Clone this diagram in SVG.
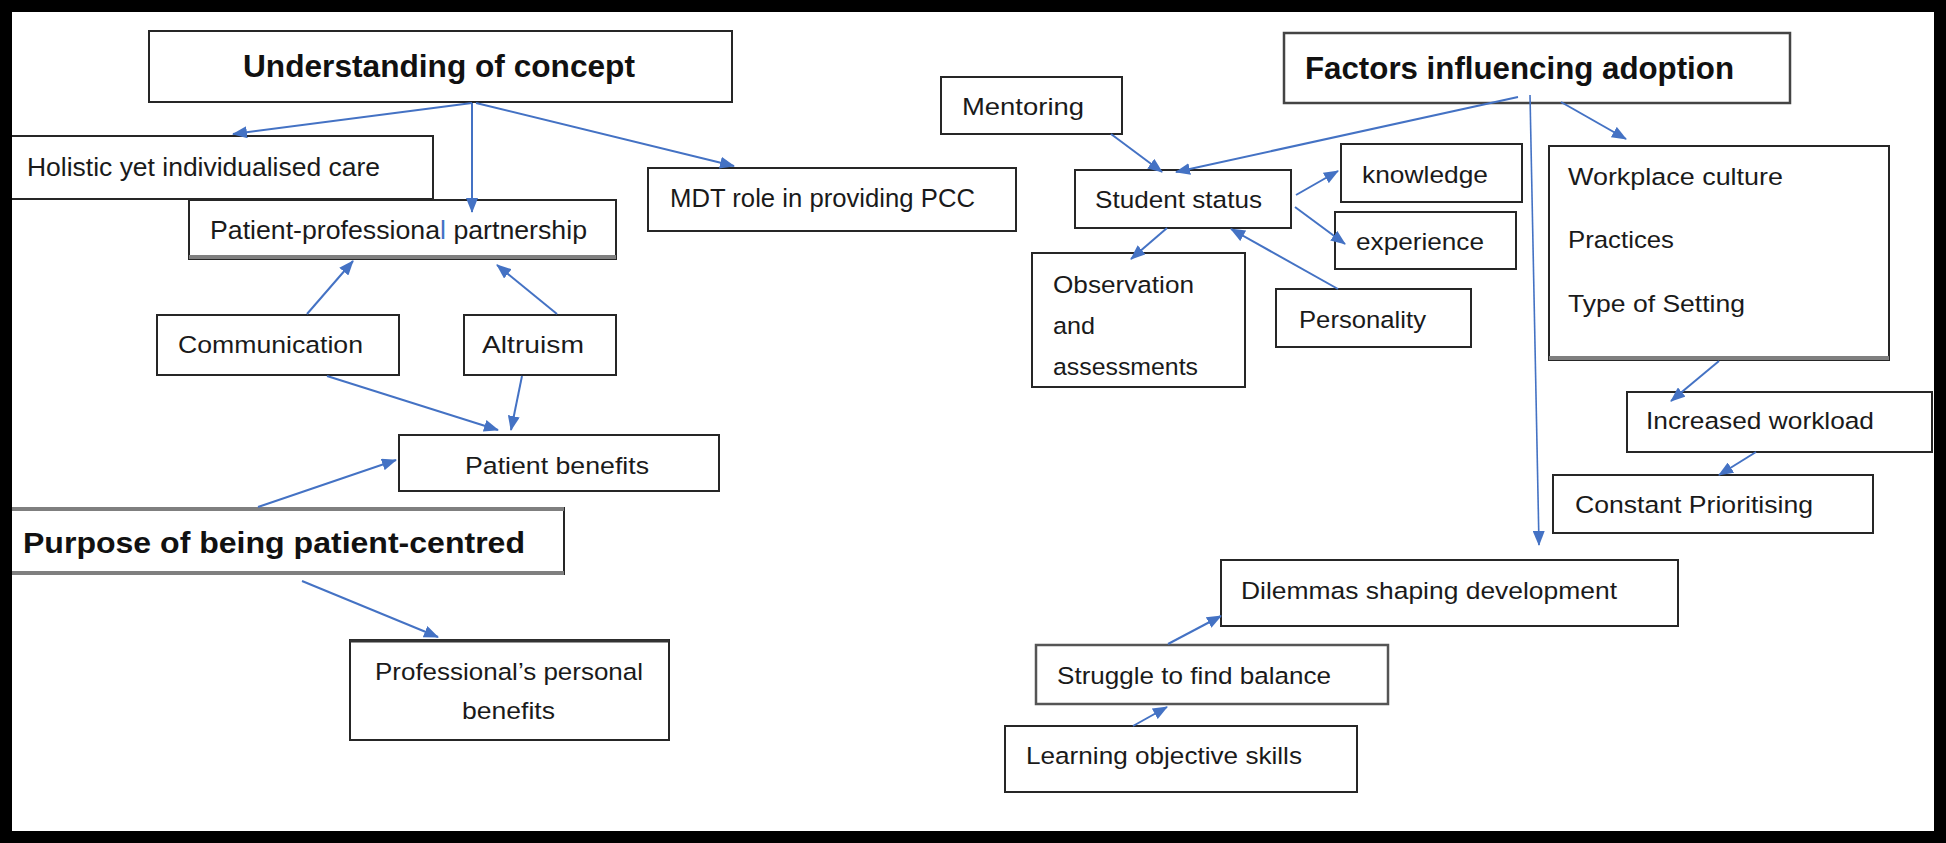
<svg xmlns="http://www.w3.org/2000/svg" width="1946" height="843" viewBox="0 0 1946 843">
<style>
.box{fill:#fff;stroke:#262626;stroke-width:2}
.sh{stroke:#7f7f7f;stroke-width:4;fill:none}
.t{font-family:"Liberation Sans","Arial",sans-serif;font-size:24.5px;fill:#1a1a1a}
.b{font-family:"Liberation Sans","Arial",sans-serif;font-size:31px;font-weight:bold;fill:#111}
.c{stroke:#4472C4;stroke-width:2;fill:none;marker-end:url(#ah)}
.thin{stroke-width:1.6}
</style>
<defs>
<marker id="ah" markerUnits="userSpaceOnUse" markerWidth="15" markerHeight="12" refX="14" refY="6" orient="auto">
<path d="M0,0 L15,6 L0,12 z" fill="#4472C4"/>
</marker>
</defs>
<rect x="0" y="0" width="1946" height="843" fill="#fff"/>

<g id="n-understanding"><rect class="box" x="149" y="31" width="583" height="71"/><text class="b" x="243" y="77" textLength="392" lengthAdjust="spacingAndGlyphs">Understanding of concept</text></g>
<g id="n-holistic"><rect class="box" x="6" y="136" width="427" height="63"/><text class="t" x="27" y="176" style="font-size:26px" textLength="353" lengthAdjust="spacingAndGlyphs">Holistic yet individualised care</text></g>
<g id="n-partnership"><rect class="box" x="189" y="200" width="427" height="59"/><line class="sh" x1="189" y1="257" x2="616" y2="257"/><text class="t" x="210" y="239" style="font-size:25.5px" textLength="377" lengthAdjust="spacingAndGlyphs">Patient-professiona<tspan fill="#4472C4">l</tspan> partnership</text></g>
<g id="n-mdt"><rect class="box" x="648" y="168" width="368" height="63"/><text class="t" x="670" y="207" style="font-size:25.5px" textLength="305" lengthAdjust="spacingAndGlyphs">MDT role in providing PCC</text></g>
<g id="n-communication"><rect class="box" x="157" y="315" width="242" height="60"/><text class="t" x="178" y="353" textLength="185" lengthAdjust="spacingAndGlyphs">Communication</text></g>
<g id="n-altruism"><rect class="box" x="464" y="315" width="152" height="60"/><text class="t" x="482" y="353" textLength="102" lengthAdjust="spacingAndGlyphs">Altruism</text></g>
<g id="n-patient-benefits"><rect class="box" x="399" y="435" width="320" height="56"/><text class="t" x="465" y="474" textLength="184" lengthAdjust="spacingAndGlyphs">Patient benefits</text></g>
<g id="n-purpose"><rect class="box" x="6" y="508" width="558" height="66"/><line class="sh" x1="6" y1="509" x2="564" y2="509"/><line class="sh" x1="6" y1="573" x2="564" y2="573"/><text class="b" x="23" y="553" style="font-size:30px" textLength="502" lengthAdjust="spacingAndGlyphs">Purpose of being patient-centred</text></g>
<g id="n-professional"><rect class="box" x="350" y="640" width="319" height="100"/><line x1="350" y1="641" x2="669" y2="641" stroke="#333" stroke-width="3"/><text class="t" x="375" y="680" textLength="268" lengthAdjust="spacingAndGlyphs">Professional’s personal</text><text class="t" x="462" y="719" textLength="93" lengthAdjust="spacingAndGlyphs">benefits</text></g>

<g id="n-mentoring"><rect class="box" x="941" y="77" width="181" height="57"/><text class="t" x="962" y="115" textLength="122" lengthAdjust="spacingAndGlyphs">Mentoring</text></g>
<g id="n-student"><rect class="box" x="1075" y="170" width="216" height="58"/><text class="t" x="1095" y="208" textLength="167" lengthAdjust="spacingAndGlyphs">Student status</text></g>
<g id="n-knowledge"><rect class="box" x="1341" y="144" width="181" height="58"/><text class="t" x="1362" y="183" textLength="126" lengthAdjust="spacingAndGlyphs">knowledge</text></g>
<g id="n-experience"><rect class="box" x="1335" y="212" width="181" height="57"/><text class="t" x="1356" y="250" textLength="128" lengthAdjust="spacingAndGlyphs">experience</text></g>
<g id="n-observation"><rect class="box" x="1032" y="253" width="213" height="134"/><text class="t" x="1053" y="293" textLength="141" lengthAdjust="spacingAndGlyphs">Observation</text><text class="t" x="1053" y="334" textLength="42" lengthAdjust="spacingAndGlyphs">and</text><text class="t" x="1053" y="375" textLength="145" lengthAdjust="spacingAndGlyphs">assessments</text></g>
<g id="n-personality"><rect class="box" x="1276" y="289" width="195" height="58"/><text class="t" x="1299" y="328" textLength="127" lengthAdjust="spacingAndGlyphs">Personality</text></g>
<g id="n-factors"><rect class="box" x="1284" y="33" width="506" height="70" style="stroke:#444;stroke-width:2.5"/><text class="b" x="1305" y="79" textLength="429" lengthAdjust="spacingAndGlyphs">Factors influencing adoption</text></g>
<g id="n-workplace"><rect class="box" x="1549" y="146" width="340" height="214"/><line class="sh" x1="1549" y1="358" x2="1889" y2="358"/><text class="t" x="1568" y="185" textLength="215" lengthAdjust="spacingAndGlyphs">Workplace culture</text><text class="t" x="1568" y="248" textLength="106" lengthAdjust="spacingAndGlyphs">Practices</text><text class="t" x="1568" y="312" textLength="177" lengthAdjust="spacingAndGlyphs">Type of Setting</text></g>
<g id="n-workload"><rect class="box" x="1627" y="392" width="305" height="60"/><text class="t" x="1646" y="429" textLength="228" lengthAdjust="spacingAndGlyphs">Increased workload</text></g>
<g id="n-prioritising"><rect class="box" x="1553" y="475" width="320" height="58"/><text class="t" x="1575" y="513" textLength="238" lengthAdjust="spacingAndGlyphs">Constant Prioritising</text></g>
<g id="n-dilemmas"><rect class="box" x="1221" y="560" width="457" height="66"/><text class="t" x="1241" y="599" textLength="376" lengthAdjust="spacingAndGlyphs">Dilemmas shaping development</text></g>
<g id="n-struggle"><rect class="box" x="1036" y="645" width="352" height="59" style="stroke:#555;stroke-width:2.5"/><text class="t" x="1057" y="684" textLength="274" lengthAdjust="spacingAndGlyphs">Struggle to find balance</text></g>
<g id="n-learning"><rect class="box" x="1005" y="726" width="352" height="66"/><text class="t" x="1026" y="764" textLength="276" lengthAdjust="spacingAndGlyphs">Learning objective skills</text></g>

<g id="connectors">
<line class="c" x1="472" y1="103" x2="233" y2="134"/>
<line class="c" x1="472" y1="103" x2="472" y2="212"/>
<line class="c" x1="476" y1="103" x2="734" y2="166"/>
<line class="c" x1="307" y1="314" x2="353" y2="261"/>
<line class="c" x1="557" y1="314" x2="497" y2="265"/>
<line class="c" x1="327" y1="376" x2="498" y2="430"/>
<line class="c" x1="522" y1="376" x2="511" y2="430"/>
<line class="c" x1="258" y1="507" x2="396" y2="460"/>
<line class="c" x1="302" y1="581" x2="438" y2="637"/>
<line class="c" x1="1111" y1="134" x2="1162" y2="172"/>
<line class="c" x1="1518" y1="97" x2="1176" y2="172"/>
<line class="c" x1="1296" y1="195" x2="1338" y2="171"/>
<line class="c" x1="1295" y1="207" x2="1345" y2="244"/>
<line class="c" x1="1167" y1="228" x2="1131" y2="259"/>
<line class="c" x1="1338" y1="289" x2="1231" y2="229"/>
<line class="c thin" x1="1530" y1="95" x2="1539" y2="545"/>
<line class="c" x1="1561" y1="102" x2="1626" y2="139"/>
<line class="c" x1="1719" y1="361" x2="1671" y2="401"/>
<line class="c" x1="1756" y1="452" x2="1719" y2="475"/>
<line class="c" x1="1168" y1="644" x2="1221" y2="616"/>
<line class="c" x1="1133" y1="726" x2="1167" y2="707"/>
</g>

<rect x="6" y="6" width="1934" height="831" fill="none" stroke="#000" stroke-width="12"/>
</svg>
